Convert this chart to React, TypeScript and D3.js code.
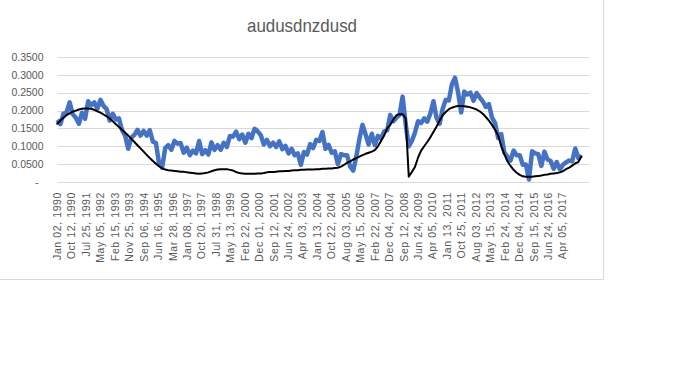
import React from "react";
import * as d3 from "d3";

const title = "audusdnzdusd";

const dateLabels = [
  "Jan 02, 1990", "Oct 12, 1990", "Jul 25, 1991", "May 05, 1992", "Feb 15, 1993", "Nov 25, 1993",
  "Sep 06, 1994", "Jun 16, 1995", "Mar 28, 1996", "Jan 08, 1997", "Oct 20, 1997", "Jul 31, 1998",
  "May 13, 1999", "Feb 22, 2000", "Dec 01, 2000", "Sep 12, 2001", "Jun 24, 2002", "Apr 03, 2003",
  "Jan 13, 2004", "Oct 22, 2004", "Aug 03, 2005", "May 15, 2006", "Feb 22, 2007", "Dec 04, 2007",
  "Sep 12, 2008", "Jun 24, 2009", "Apr 05, 2010", "Jan 13, 2011", "Oct 25, 2011", "Aug 03, 2012",
  "May 15, 2013", "Feb 24, 2014", "Dec 04, 2014", "Sep 15, 2015", "Jun 24, 2016", "Apr 05, 2017",
];

const yTicks = [0, 0.05, 0.1, 0.15, 0.2, 0.25, 0.3, 0.35];

// trading days between consecutive axis labels / between consecutive samples
const DAYS_PER_LABEL = 200;
const DAYS_PER_SAMPLE = 42.7;
const TOTAL_DAYS = 7364;

const audusdnzdusd = [
  0.174, 0.162, 0.191, 0.195, 0.223, 0.190, 0.180, 0.163, 0.194, 0.177,
  0.226, 0.215, 0.223, 0.205, 0.230, 0.213, 0.204, 0.172, 0.191, 0.175,
  0.178, 0.145, 0.130, 0.093, 0.124, 0.132, 0.146, 0.130, 0.143, 0.130,
  0.145, 0.113, 0.109, 0.052, 0.040, 0.095, 0.103, 0.090, 0.115, 0.108,
  0.109, 0.082, 0.096, 0.075, 0.088, 0.080, 0.115, 0.078, 0.089, 0.077,
  0.111, 0.090, 0.103, 0.090, 0.110, 0.098, 0.129, 0.127, 0.141, 0.120,
  0.133, 0.110, 0.135, 0.123, 0.149, 0.142, 0.131, 0.105, 0.118, 0.100,
  0.110, 0.098, 0.114, 0.092, 0.101, 0.080, 0.093, 0.075, 0.080, 0.048,
  0.084, 0.077, 0.106, 0.095, 0.118, 0.115, 0.140, 0.093, 0.104, 0.082,
  0.086, 0.050, 0.078, 0.075, 0.075, 0.043, 0.032, 0.072, 0.121, 0.160,
  0.133, 0.105, 0.135, 0.103, 0.129, 0.122, 0.141, 0.145, 0.188, 0.170,
  0.180, 0.188, 0.239, 0.162, 0.100, 0.115, 0.138, 0.170, 0.165, 0.178,
  0.169, 0.192, 0.226, 0.180, 0.163, 0.205, 0.230, 0.228, 0.274, 0.292,
  0.251, 0.195, 0.253, 0.245, 0.250, 0.228, 0.249, 0.237, 0.226, 0.210,
  0.218, 0.180, 0.165, 0.123, 0.134, 0.082, 0.071, 0.060, 0.088, 0.075,
  0.075, 0.048, 0.049, 0.007, 0.086, 0.080, 0.078, 0.045, 0.085, 0.063,
  0.059, 0.037, 0.056, 0.035, 0.048, 0.055, 0.060, 0.058, 0.094, 0.067,
  0.074,
];

const trend = [
  0.163, 0.172, 0.180, 0.187, 0.192, 0.197, 0.200, 0.203, 0.205, 0.206,
  0.206, 0.205, 0.202, 0.198, 0.194, 0.189, 0.184, 0.178, 0.170, 0.162,
  0.154, 0.146, 0.138, 0.130, 0.121, 0.112, 0.103, 0.094, 0.085, 0.076,
  0.067, 0.059, 0.051, 0.044, 0.038, 0.035, 0.033, 0.032, 0.031, 0.030,
  0.029, 0.029, 0.027, 0.026, 0.025, 0.024, 0.023, 0.024, 0.025, 0.027,
  0.030, 0.033, 0.035, 0.036, 0.036, 0.036, 0.034, 0.032, 0.028, 0.025,
  0.024, 0.023, 0.023, 0.023, 0.023, 0.024, 0.024, 0.025, 0.027, 0.028,
  0.028, 0.029, 0.030, 0.030, 0.031, 0.031, 0.032, 0.033, 0.033, 0.034,
  0.034, 0.035, 0.035, 0.035, 0.036, 0.036, 0.037, 0.037, 0.038, 0.038,
  0.039, 0.040, 0.043, 0.048, 0.054, 0.058, 0.063, 0.067, 0.071, 0.075,
  0.079, 0.082, 0.085, 0.089, 0.100, 0.115, 0.130, 0.150, 0.160, 0.175,
  0.187, 0.190, 0.190, 0.178, 0.015, 0.028, 0.042, 0.068, 0.088, 0.100,
  0.112, 0.125, 0.140, 0.155, 0.172, 0.187, 0.196, 0.204, 0.208, 0.211,
  0.213, 0.213, 0.212, 0.211, 0.209, 0.206, 0.203, 0.198, 0.191, 0.182,
  0.172, 0.160, 0.146, 0.130, 0.100, 0.078, 0.058, 0.045, 0.034, 0.026,
  0.020, 0.016, 0.015, 0.015, 0.015, 0.016, 0.017, 0.018, 0.020, 0.021,
  0.023, 0.024, 0.025, 0.027, 0.030, 0.036, 0.040, 0.046, 0.052, 0.056,
  0.072,
];

const W = 680;
const H = 378;
const plot = { left: 57.3, right: 589, top: 57, bottom: 182 };
const grey = "#595959";

export default function App() {
  const x = d3.scaleLinear().domain([0, TOTAL_DAYS]).range([plot.left, plot.right]);
  const y = d3.scaleLinear().domain([0, 0.35]).range([plot.bottom, plot.top]);

  const line = d3
    .line<number>()
    .x((_, i) => x(i * DAYS_PER_SAMPLE))
    .y((d) => y(d));

  const fmt = d3.format(".4f");

  return (
    <svg
      width={W}
      height={H}
      style={{ position: "absolute", left: 0, top: 0, background: "#fff" }}
      fontFamily="'Liberation Sans', Arial, sans-serif"
    >
      <rect x={0} y={0} width={W} height={H} fill="#fff" />
      {/* chart frame */}
      <line x1={603.5} x2={603.5} y1={0} y2={279.5} stroke="#d9d9d9" strokeWidth={1} />
      <line x1={0} x2={603.5} y1={279.5} y2={279.5} stroke="#d9d9d9" strokeWidth={1} />

      <text
        x={302}
        y={32}
        textAnchor="middle"
        fontSize={19}
        fill={grey}
        textLength={110}
        lengthAdjust="spacingAndGlyphs"
      >
        {title}
      </text>

      {yTicks.map((t) => (
        <g key={t}>
          <line
            x1={plot.left}
            x2={plot.right}
            y1={Math.round(y(t)) + 0.5}
            y2={Math.round(y(t)) + 0.5}
            stroke="#d9d9d9"
            strokeWidth={1}
          />
          <text
            x={t === 0 ? 38.5 : 43.5}
            y={y(t)}
            dy="0.35em"
            textAnchor="end"
            fontSize={10.5}
            fill={grey}
          >
            {t === 0 ? "-" : fmt(t)}
          </text>
        </g>
      ))}

      {dateLabels.map((lab, i) => {
        const xp = x(i * DAYS_PER_LABEL);
        return (
          <text
            key={lab}
            transform={`translate(${xp},192) rotate(-90)`}
            textAnchor="end"
            dy="0.35em"
            fontSize={10.5}
            letterSpacing={0.6}
            fill={grey}
          >
            {lab}
          </text>
        );
      })}

      <path
        d={line(audusdnzdusd) || ""}
        fill="none"
        stroke="#4472C4"
        strokeWidth={4.5}
        strokeLinejoin="round"
      />
      <path
        d={line(trend) || ""}
        fill="none"
        stroke="#000"
        strokeWidth={2}
        strokeLinejoin="round"
        strokeLinecap="round"
      />
    </svg>
  );
}
